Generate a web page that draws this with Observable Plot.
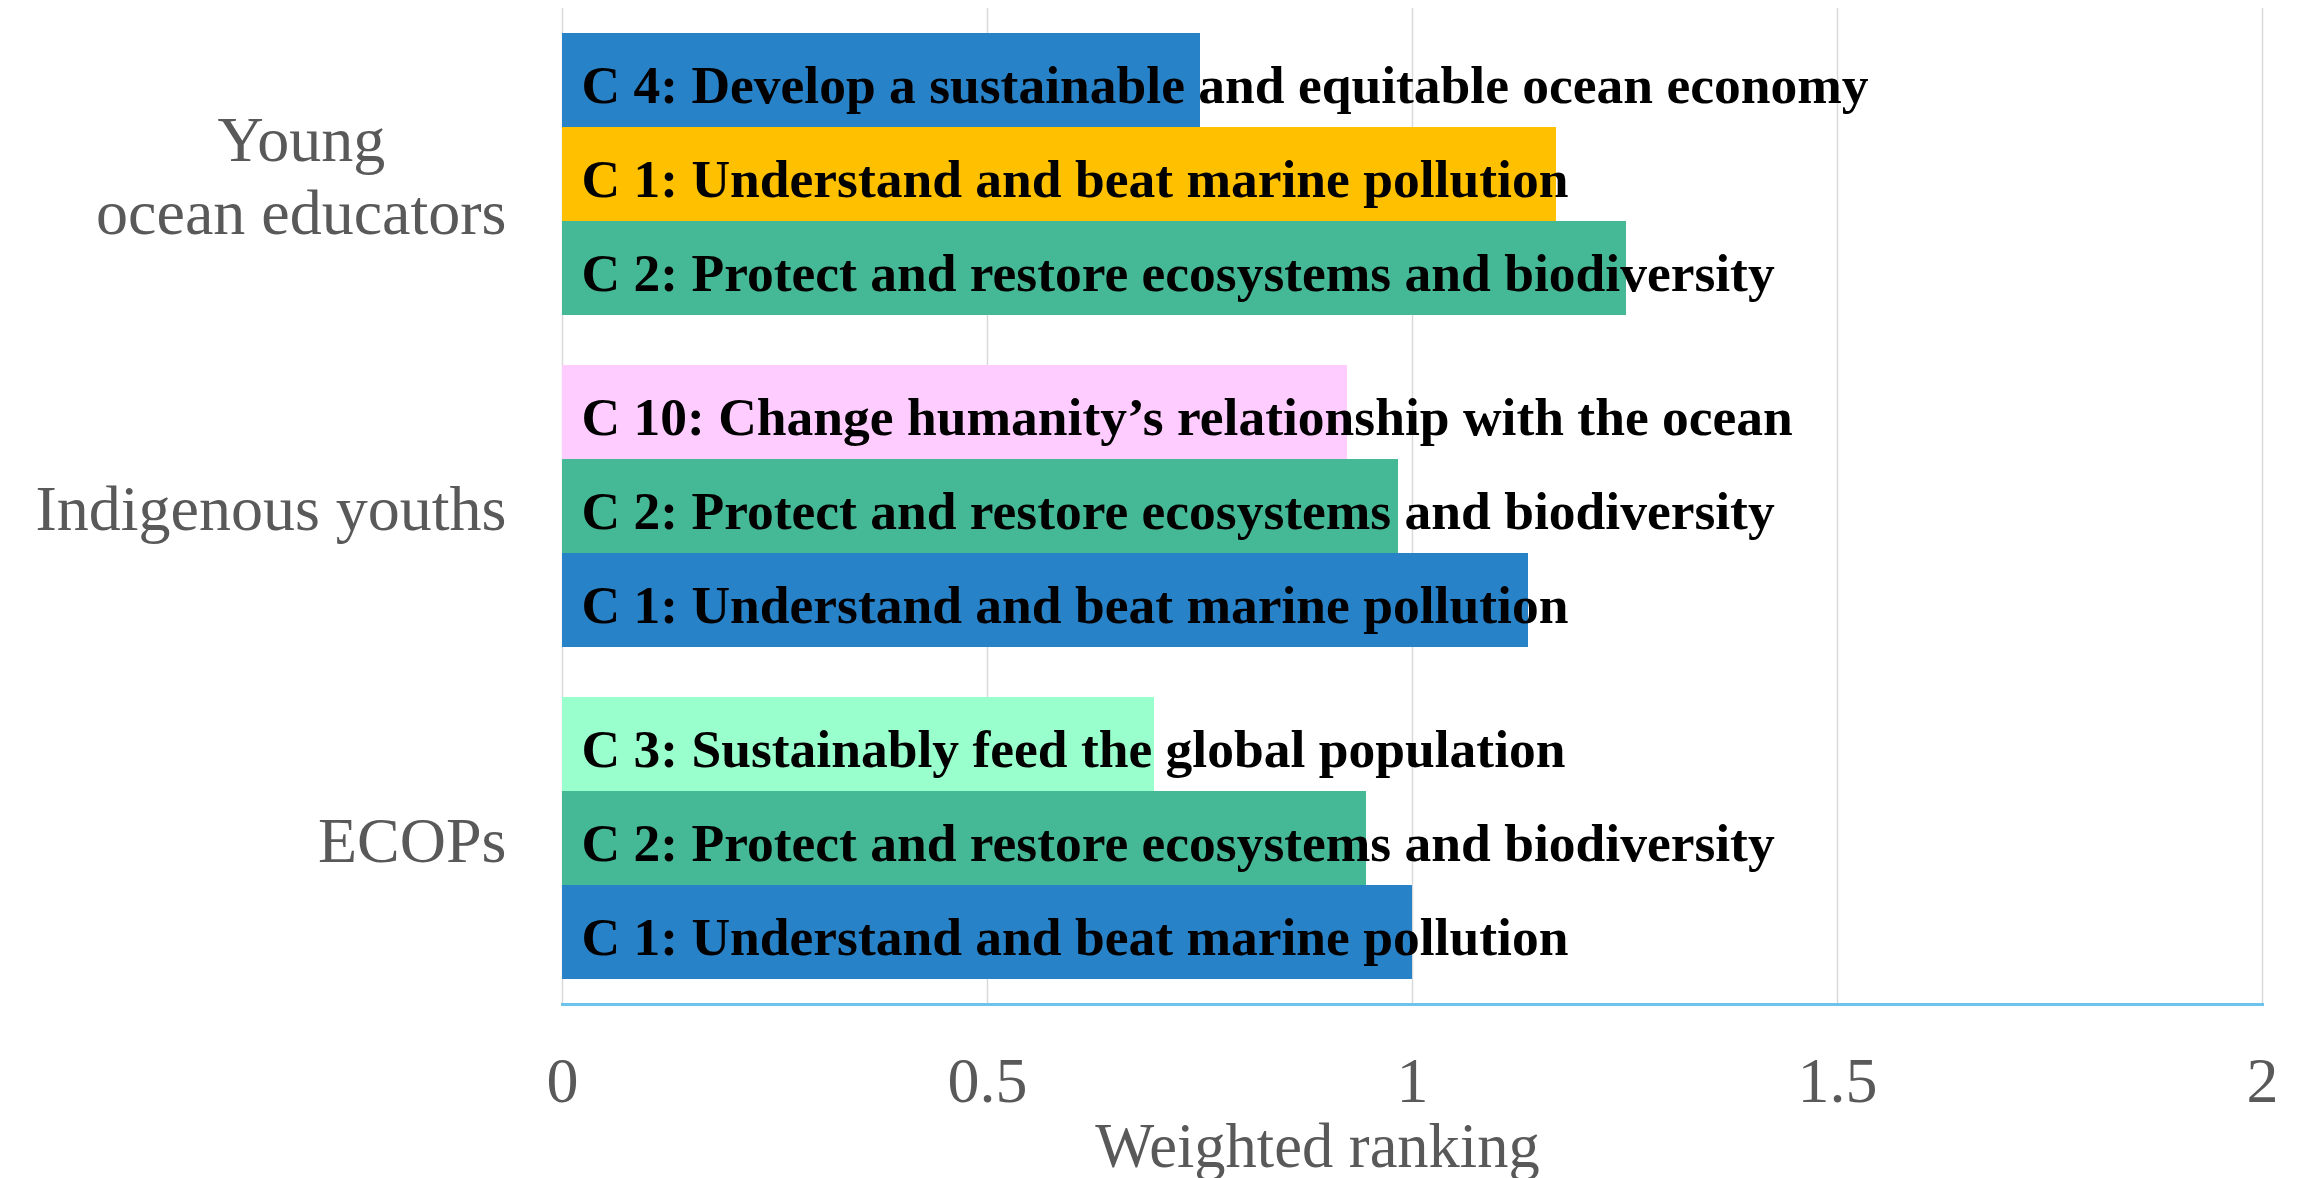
<!DOCTYPE html>
<html>
<head>
<meta charset="utf-8">
<script src="https://cdn.jsdelivr.net/npm/d3@7"></script>
<script src="https://cdn.jsdelivr.net/npm/@observablehq/plot@0.6"></script>
<style>
  html, body { margin: 0; padding: 0; background: #ffffff; }
  #chart svg { display: block; }
</style>
</head>
<body>
<div id="chart"></div>
<script>
// ---- Data ----
const groups = ["Young\nocean educators", "Indigenous youths", "ECOPs"];
const barGroups = [groups[0], groups[0], groups[0], groups[1], groups[1], groups[1], groups[2], groups[2], groups[2]];
const barOrder = [0, 1, 2, 0, 1, 2, 0, 1, 2];
const barLabels = [
  "C 4: Develop a sustainable and equitable ocean economy",
  "C 1: Understand and beat marine pollution",
  "C 2: Protect and restore ecosystems and biodiversity",
  "C 10: Change humanity\u2019s relationship with the ocean",
  "C 2: Protect and restore ecosystems and biodiversity",
  "C 1: Understand and beat marine pollution",
  "C 3: Sustainably feed the global population",
  "C 2: Protect and restore ecosystems and biodiversity",
  "C 1: Understand and beat marine pollution"
];
const barValues = [0.75, 1.169, 1.252, 0.923, 0.983, 1.137, 0.696, 0.946, 1.0];
const barColors = ["#2882c8", "#ffc000", "#45b996", "#ffccff", "#45b996", "#2882c8", "#99ffcc", "#45b996", "#2882c8"];
const xTicks = [0, 0.5, 1, 1.5, 2];
const xLabel = "Weighted ranking";

const data = barLabels.map((label, i) => ({
  group: barGroups[i], pos: barOrder[i], label, value: barValues[i], color: barColors[i]
}));

const serif = "'Liberation Serif', 'Times New Roman', Times, serif";

const plot = Plot.plot({
  width: 2300,
  height: 1178,
  marginLeft: 562,
  marginRight: 38,
  marginTop: 7,
  marginBottom: 173,
  style: { fontFamily: serif, background: "#ffffff", overflow: "visible" },
  x: { domain: [0, 2], axis: null },
  y: { domain: [0, 1, 2], axis: null, paddingInner: 0, paddingOuter: 0.25 },
  fy: { domain: groups, padding: 0, axis: null },
  marks: [
    Plot.gridX(xTicks, { stroke: "#d9d9d9", strokeOpacity: 1, strokeWidth: 1.5 }),
    Plot.barX(data, { fy: "group", y: "pos", x: "value", fill: "color", inset: 0, shapeRendering: "crispEdges" }),
    Plot.text(data, {
      fy: "group", y: "pos", text: "label", frameAnchor: "left", textAnchor: "start",
      dx: 19, dy: 5, fontSize: 53.5, fontWeight: "bold", fill: "#000000"
    }),
    Plot.frame({ anchor: "bottom", fy: [groups[2]], stroke: "#6cc4ec", strokeWidth: 3 }),
    Plot.axisX(xTicks, {
      tickSize: 0, tickPadding: 52, fontSize: 64, fill: "#595959", label: null,
      tickFormat: d => String(d)
    }),
    Plot.text([xLabel], {
      fy: [groups[2]], frameAnchor: "bottom", lineAnchor: "top", dy: 118, dx: -95,
      fontSize: 62.5, fill: "#595959"
    }),
    Plot.axisFy({
      anchor: "left", tickSize: 0, tickPadding: 56, fontSize: 64, fill: "#595959",
      label: null, lineHeight: 1.14
    })
  ]
});

document.getElementById("chart").appendChild(plot);

// Center the lines of multi-line category labels on each other (as in the reference).
d3.select(plot).selectAll("text").each(function () {
  const tspans = this.querySelectorAll("tspan");
  if (tspans.length > 1) {
    let maxW = 0;
    tspans.forEach(t => { maxW = Math.max(maxW, t.getComputedTextLength()); });
    this.setAttribute("text-anchor", "middle");
    tspans.forEach(t => t.setAttribute("x", -maxW / 2));
  }
});
</script>
</body>
</html>
